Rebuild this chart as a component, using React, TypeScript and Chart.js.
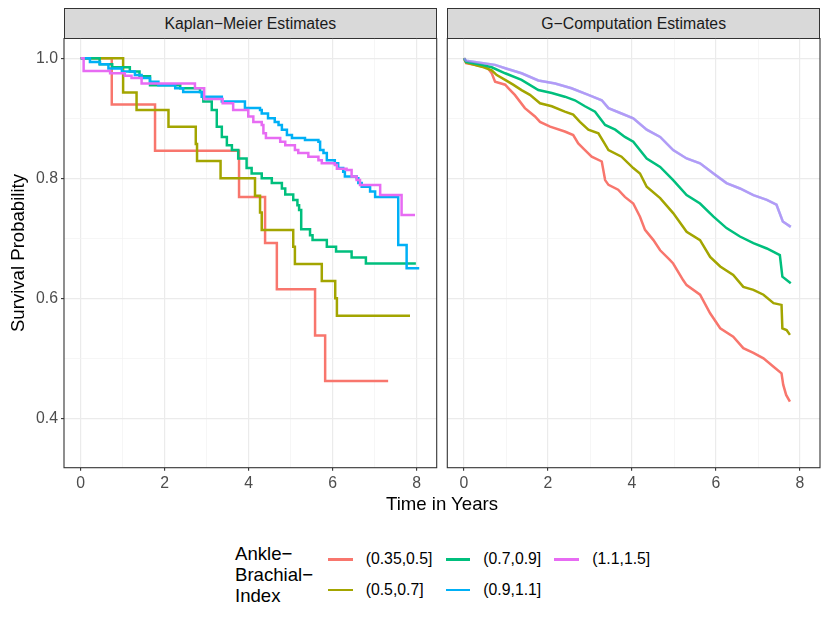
import { useEffect, useRef } from "react";
import { Chart, registerables } from "chart.js";
import type { ChartDataset, Plugin } from "chart.js";

Chart.register(...registerables);

const FONT = '"Liberation Sans", Arial, Helvetica, sans-serif';

const groups = ["(0.35,0.5]", "(0.5,0.7]", "(0.7,0.9]", "(0.9,1.1]", "(1.1,1.5]"];
const colors = ["#F8766D", "#A3A500", "#00BF7D", "#00B0F6", "#E76BF3"];
const xTicks = [0, 1, 2, 3, 4, 5, 6, 7, 8];
const yTicks = [0.4, 0.5, 0.6, 0.7, 0.8, 0.9, 1.0];

// Kaplan-Meier estimates (step functions)
const kmTime035 = [0, 0.74, 1.77, 3.77, 4.39, 4.67, 5.58, 5.82, 7.32];
const kmSurv035 = [1, 0.923, 0.846, 0.769, 0.692, 0.615, 0.538, 0.462, 0.462];

const kmTime05 = [0, 1.01, 1.33, 2.09, 2.74, 2.77, 3.33, 4.15, 4.27, 4.31, 5.06, 5.1, 5.74, 6.06, 6.1, 7.84];
const kmSurv05 = [1, 0.943, 0.914, 0.886, 0.857, 0.829, 0.8, 0.771, 0.743, 0.714, 0.686, 0.657, 0.629, 0.6, 0.571, 0.571];

const kmTime07 = [0, 0.45, 0.75, 1.17, 1.4, 1.65, 2.37, 2.84, 2.92, 3.12, 3.24, 3.36, 3.48, 3.6, 3.75, 3.95, 4.07, 4.31, 4.55, 4.79, 4.87, 5.06, 5.16, 5.2, 5.25, 5.46, 5.52, 5.86, 6.08, 6.45, 6.79, 7.98];
const kmSurv07 = [1, 0.99, 0.985, 0.978, 0.97, 0.955, 0.95, 0.944, 0.928, 0.914, 0.886, 0.869, 0.855, 0.847, 0.833, 0.817, 0.808, 0.8, 0.792, 0.783, 0.773, 0.764, 0.755, 0.747, 0.715, 0.705, 0.697, 0.686, 0.678, 0.668, 0.658, 0.658];

const kmTime09 = [0, 0.22, 0.46, 0.66, 0.98, 1.29, 1.45, 1.65, 1.85, 2.25, 2.44, 2.88, 3.36, 3.91, 4.27, 4.31, 4.46, 4.62, 4.71, 4.79, 4.91, 5.03, 5.34, 5.66, 5.7, 5.78, 5.86, 6.05, 6.13, 6.25, 6.29, 6.57, 6.61, 6.69, 6.89, 7.01, 7.56, 7.76, 8.06];
const kmSurv09 = [1, 0.994, 0.99, 0.983, 0.978, 0.972, 0.967, 0.961, 0.955, 0.95, 0.944, 0.936, 0.928, 0.917, 0.914, 0.908, 0.9, 0.894, 0.889, 0.881, 0.872, 0.867, 0.864, 0.861, 0.847, 0.842, 0.83, 0.825, 0.817, 0.811, 0.803, 0.8, 0.792, 0.786, 0.778, 0.769, 0.689, 0.65, 0.65];

const kmTime11 = [0, 0.07, 0.7, 1.05, 1.21, 1.45, 2.72, 2.94, 3.38, 3.63, 3.99, 4.11, 4.31, 4.35, 4.41, 4.75, 4.87, 5.1, 5.18, 5.42, 5.66, 5.74, 6.05, 6.1, 6.33, 6.45, 6.57, 6.65, 7.13, 7.64, 7.96];
const kmSurv11 = [1, 0.979, 0.975, 0.971, 0.967, 0.958, 0.95, 0.932, 0.925, 0.914, 0.903, 0.894, 0.889, 0.875, 0.867, 0.861, 0.855, 0.847, 0.842, 0.836, 0.83, 0.825, 0.822, 0.816, 0.814, 0.803, 0.797, 0.789, 0.772, 0.739, 0.739];

// G-computation estimates
const gcTime035 = [0, 0.05, 0.55, 0.66, 0.74, 0.98, 1.06, 1.21, 1.45, 1.69, 1.81, 2.05, 2.4, 2.6, 2.72, 2.88, 3.04, 3.28, 3.36, 3.44, 3.67, 3.83, 4.03, 4.19, 4.31, 4.51, 4.67, 4.9, 4.98, 5.22, 5.3, 5.62, 5.86, 6.1, 6.41, 6.65, 6.89, 7.13, 7.37, 7.56, 7.6, 7.67, 7.76];
const gcSurv035 = [1, 0.992, 0.985, 0.975, 0.961, 0.956, 0.95, 0.939, 0.917, 0.903, 0.894, 0.886, 0.878, 0.872, 0.858, 0.847, 0.836, 0.828, 0.797, 0.789, 0.781, 0.769, 0.758, 0.736, 0.714, 0.697, 0.68, 0.664, 0.658, 0.63, 0.622, 0.606, 0.575, 0.55, 0.536, 0.517, 0.509, 0.5, 0.486, 0.475, 0.456, 0.439, 0.428];

const gcTime05 = [0, 0.05, 0.42, 0.66, 0.78, 0.98, 1.17, 1.37, 1.57, 1.81, 2.09, 2.4, 2.6, 2.76, 2.96, 3.2, 3.32, 3.44, 3.75, 4.03, 4.19, 4.35, 4.67, 4.98, 5.3, 5.62, 5.86, 6.1, 6.41, 6.65, 6.89, 7.13, 7.37, 7.56, 7.58, 7.68, 7.76];
const gcSurv05 = [1, 0.993, 0.986, 0.98, 0.972, 0.964, 0.956, 0.947, 0.939, 0.925, 0.92, 0.911, 0.906, 0.894, 0.881, 0.875, 0.861, 0.847, 0.836, 0.817, 0.808, 0.786, 0.767, 0.742, 0.711, 0.697, 0.669, 0.653, 0.639, 0.619, 0.614, 0.606, 0.592, 0.589, 0.55, 0.547, 0.539];

const gcTime07 = [0, 0.05, 0.42, 0.66, 0.98, 1.37, 1.77, 2.09, 2.4, 2.64, 2.88, 3.12, 3.36, 3.6, 3.83, 4.03, 4.35, 4.67, 4.98, 5.3, 5.62, 5.94, 6.25, 6.57, 6.89, 7.21, 7.52, 7.58, 7.78];
const gcSurv07 = [1, 0.994, 0.989, 0.985, 0.975, 0.964, 0.947, 0.942, 0.936, 0.93, 0.92, 0.911, 0.889, 0.881, 0.869, 0.861, 0.833, 0.819, 0.797, 0.772, 0.758, 0.736, 0.717, 0.703, 0.692, 0.683, 0.672, 0.636, 0.625];

const gcTime09 = [0, 0.05, 0.42, 0.74, 1.0, 1.37, 1.77, 2.17, 2.56, 2.96, 3.28, 3.44, 3.75, 4.03, 4.35, 4.67, 4.98, 5.3, 5.62, 5.94, 6.25, 6.57, 6.89, 7.21, 7.44, 7.59, 7.78];
const gcSurv09 = [1, 0.996, 0.992, 0.989, 0.983, 0.975, 0.963, 0.958, 0.95, 0.939, 0.93, 0.917, 0.908, 0.9, 0.881, 0.869, 0.847, 0.833, 0.825, 0.808, 0.792, 0.783, 0.772, 0.764, 0.756, 0.728, 0.719];

const gcTime11 = [0, 0.05, 0.42, 0.74, 1.0, 1.37, 1.77, 2.17, 2.56, 2.96, 3.28, 3.44, 3.75, 4.03, 4.35, 4.67, 4.98, 5.3, 5.62, 5.94, 6.25, 6.57, 6.89, 7.21, 7.44, 7.59, 7.78];
const gcSurv11 = [1, 0.996, 0.992, 0.989, 0.983, 0.975, 0.963, 0.958, 0.95, 0.939, 0.93, 0.917, 0.908, 0.9, 0.881, 0.869, 0.847, 0.833, 0.825, 0.808, 0.792, 0.783, 0.772, 0.764, 0.756, 0.728, 0.719];

const kmCurves = [
  [kmTime035, kmSurv035],
  [kmTime05, kmSurv05],
  [kmTime07, kmSurv07],
  [kmTime09, kmSurv09],
  [kmTime11, kmSurv11],
];
const gcCurves = [
  [gcTime035, gcSurv035],
  [gcTime05, gcSurv05],
  [gcTime07, gcSurv07],
  [gcTime09, gcSurv09],
  [gcTime11, gcSurv11],
];

const hexAlpha = (hex: string, a: number) => {
  const n = parseInt(hex.slice(1), 16);
  return `rgba(${(n >> 16) & 255},${(n >> 8) & 255},${n & 255},${a})`;
};

function makeDatasets(curves: number[][][], stepped: boolean, faded: number[]): ChartDataset<"line">[] {
  return curves.map(([t, s], i) => ({
    label: groups[i],
    data: t.map((x, k) => ({ x, y: s[k] })),
    borderColor: faded.includes(i) ? hexAlpha(colors[i], 0.55) : colors[i],
    borderWidth: 2.5,
    pointRadius: 0,
    stepped: stepped ? "before" : false,
    tension: 0,
    order: curves.length - i,
  })) as ChartDataset<"line">[];
}

const panelBorder: Plugin<"line"> = {
  id: "panelBorder",
  afterDraw(chart) {
    const { ctx, chartArea: a } = chart;
    ctx.save();
    ctx.strokeStyle = "#333333";
    ctx.lineWidth = 1.1;
    ctx.strokeRect(a.left, a.top, a.right - a.left, a.bottom - a.top);
    ctx.restore();
  },
};

const isMajorX = (v: number) => Math.round(v) % 2 === 0;
const isMajorY = (v: number) => Math.round(v * 10) % 2 === 0;

type PanelProps = {
  datasets: ChartDataset<"line">[];
  showY: boolean;
  left: number;
  width: number;
  padLeft: number;
  padRight: number;
};

function Panel({ datasets, showY, left, width, padLeft, padRight }: PanelProps) {
  const ref = useRef<HTMLCanvasElement | null>(null);

  useEffect(() => {
    if (!ref.current) return;
    const chart = new Chart(ref.current, {
      type: "line",
      data: { datasets },
      plugins: [panelBorder],
      options: {
        responsive: false,
        animation: false,
        layout: { autoPadding: false, padding: { left: padLeft, right: padRight, top: 0.3, bottom: 0 } },
        plugins: { legend: { display: false }, tooltip: { enabled: false } },
        scales: {
          x: {
            type: "linear",
            min: -0.3976,
            max: 8.476,
            afterBuildTicks: (s) => {
              s.ticks = xTicks.map((value) => ({ value }));
            },
            afterFit: (s) => {
              s.height = 30.3;
              s.paddingLeft = 0;
              s.paddingRight = 0;
            },
            border: { display: false },
            grid: {
              color: (c) => (isMajorX(c.tick.value) ? "#EBEBEB" : "#F2F2F2"),
              lineWidth: (c) => (isMajorX(c.tick.value) ? 1.2 : 0.7),
              tickLength: 3,
              tickWidth: 1.1,
              tickColor: (c) => (isMajorX(c.tick.value) ? "#333333" : "rgba(0,0,0,0)"),
            },
            ticks: {
              autoSkip: false,
              maxRotation: 0,
              padding: 3,
              color: "#4D4D4D",
              font: { family: FONT, size: 15.8 },
              callback: (v) => (isMajorX(Number(v)) ? String(v) : ""),
            },
          },
          y: {
            type: "linear",
            min: 0.3177,
            max: 1.0333,
            afterBuildTicks: (s) => {
              s.ticks = yTicks.map((value) => ({ value }));
            },
            afterFit: (s) => {
              s.width = showY ? 64 : 0;
              s.paddingTop = 0;
              s.paddingBottom = 0;
            },
            border: { display: false },
            grid: {
              color: (c) => (isMajorY(c.tick.value) ? "#EBEBEB" : "#F2F2F2"),
              lineWidth: (c) => (isMajorY(c.tick.value) ? 1.2 : 0.7),
              drawTicks: showY,
              tickLength: 3,
              tickWidth: 1.1,
              tickColor: (c) => (isMajorY(c.tick.value) ? "#333333" : "rgba(0,0,0,0)"),
            },
            ticks: {
              display: showY,
              autoSkip: false,
              padding: 3,
              color: "#4D4D4D",
              font: { family: FONT, size: 15.8 },
              callback: (v) => (isMajorY(Number(v)) ? Number(v).toFixed(1) : ""),
            },
            title: {
              display: showY,
              text: "Survival Probability",
              color: "#000000",
              font: { family: FONT, size: 18.6 },
              padding: { top: 8, bottom: 0 },
            },
          },
        },
      },
    });
    return () => chart.destroy();
  }, [datasets, showY, padLeft, padRight]);

  return (
    <canvas
      ref={ref}
      width={width}
      height={460}
      style={{ position: "absolute", left, top: 38, width, height: 460 }}
    />
  );
}

const stripStyle = (left: number, width: number): React.CSSProperties => ({
  position: "absolute",
  left,
  top: 8,
  width,
  height: 31,
  boxSizing: "border-box",
  background: "#D9D9D9",
  border: "1.1px solid #333333",
  display: "flex",
  alignItems: "center",
  justifyContent: "center",
  fontSize: 15.8,
  color: "#1A1A1A",
});

const legendCols = [
  { key: 328.3, text: 365.7 },
  { key: 446, text: 483.3 },
  { key: 554.3, text: 592.3 },
];
const legendRows = [559.3, 590];

const kmSets = makeDatasets(kmCurves, true, []);
const gcSets = makeDatasets(gcCurves, false, [3, 4]);

export default function App() {
  return (
    <div
      style={{
        position: "absolute",
        left: 0,
        top: 0,
        width: 830,
        height: 625,
        background: "#FFFFFF",
        fontFamily: FONT,
        overflow: "hidden",
      }}
    >
      <div style={stripStyle(64, 372.7)}>Kaplan−Meier Estimates</div>
      <div style={stripStyle(447.3, 372.7)}>G−Computation Estimates</div>
      <Panel datasets={kmSets} showY={true} left={0} width={440} padLeft={0} padRight={3.3} />
      <Panel datasets={gcSets} showY={false} left={440} width={390} padLeft={7.3} padRight={10} />
      <div
        style={{
          position: "absolute",
          left: 242,
          width: 400,
          top: 492.6,
          textAlign: "center",
          fontSize: 18.6,
          lineHeight: "22px",
          color: "#000000",
        }}
      >
        Time in Years
      </div>
      <div
        style={{
          position: "absolute",
          left: 235,
          top: 542.9,
          fontSize: 18.6,
          lineHeight: "21.3px",
          color: "#000000",
        }}
      >
        Ankle−
        <br />
        Brachial−
        <br />
        Index
      </div>
      {groups.map((g, i) => {
        const col = legendCols[Math.floor(i / 2)];
        const row = legendRows[i % 2];
        return (
          <div key={g}>
            <div
              style={{
                position: "absolute",
                left: col.key,
                top: row - 1.4,
                width: 24.4,
                height: 2.8,
                background: colors[i],
              }}
            />
            <div
              style={{
                position: "absolute",
                left: col.text,
                top: row - 9.2,
                fontSize: 15.8,
                lineHeight: "18px",
                color: "#000000",
                whiteSpace: "nowrap",
              }}
            >
              {g}
            </div>
          </div>
        );
      })}
    </div>
  );
}
